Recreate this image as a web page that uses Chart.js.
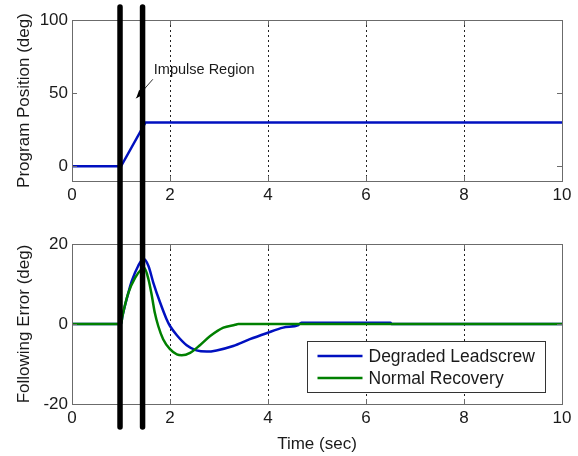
<!DOCTYPE html>
<html><head><meta charset="utf-8">
<script src="https://cdn.jsdelivr.net/npm/chart.js@4"></script>
<style>
html,body{margin:0;padding:0;background:#fff;width:578px;height:456px;overflow:hidden}
canvas{position:absolute;left:0}
#top{top:0}#bot{top:216px}
</style></head><body>
<canvas id="top" width="578" height="216"></canvas>
<canvas id="bot" width="578" height="240"></canvas>
<script>
// ---- data ----
const xTicks = [0, 2, 4, 6, 8, 10];
const posTicks = [0, 50, 100];
const errTicks = [-20, 0, 20];

const posTime  = [0, 1, 1.5, 10];
const posValue = [0, 0, 30, 30];

const degTime  = [0, 1, 1.03, 1.15, 1.22, 1.35, 1.46, 1.56, 1.66, 1.8, 1.93, 2.0, 2.14, 2.34, 2.54, 2.75, 2.95, 3.29, 3.63, 3.97, 4.31, 4.62, 4.68, 6.5, 6.52, 10];
const degValue = [0, 0, 2.0, 7.8, 10.75, 14.5, 16.3, 14.5, 10.3, 5.3, 1.2, -0.5, -2.8, -5.3, -6.6, -6.9, -6.6, -5.5, -3.8, -2.3, -0.9, -0.25, 0.3, 0.3, 0, 0];

const normTime  = [0, 1, 1.03, 1.15, 1.29, 1.42, 1.47, 1.56, 1.63, 1.69, 1.76, 1.86, 2.0, 2.14, 2.24, 2.41, 2.61, 2.82, 3.09, 3.33, 3.39, 10];
const normValue = [0, 0, 2.0, 7.8, 11.6, 13.7, 14.1, 11.2, 7.0, 2.8, -0.5, -3.8, -6.3, -7.6, -7.8, -7.2, -5.3, -3.0, -0.9, -0.2, 0, 0];

const impulseBounds = [0.98, 1.44];
const seriesLabels = ['Degraded Leadscrew', 'Normal Recovery'];
const annotationText = 'Impulse Region';

// ---- styles / positions ----
const FONT = '"Liberation Sans", Arial, Helvetica, sans-serif';
const TXT = '#1a1a1a';
const BLUE = '#0010c0';
const GREEN = '#008000';
const annot = {textX: 1.67, textY: 66, tailX: 1.65, tailY: 59.5, tipX: 1.31, tipY: 46.5};

function pts(xs, ys) { return xs.map((t, i) => ({x: t, y: ys[i]})); }

function xScale(h) {
  return {
    type: 'linear', min: 0, max: 10,
    afterBuildTicks: s => { s.ticks = xTicks.map(v => ({value: v})); },
    afterFit: s => { s.height = h; },
    ticks: {font: {family: FONT, size: 17}, color: TXT, padding: 4, maxRotation: 0, autoSkip: false},
    grid: {drawTicks: false, lineWidth: 1,
      color: c => (c.tick && (c.tick.value === 0 || c.tick.value === 10)) ? 'rgba(0,0,0,0)' : '#222'},
    border: {display: false, dash: [2, 3]}
  };
}
function yScale(min, max, ticks, title) {
  return {
    min, max,
    afterBuildTicks: s => { s.ticks = ticks.map(v => ({value: v})); },
    afterFit: s => { s.width = 72; },
    ticks: {font: {family: FONT, size: 17}, color: TXT, padding: 4},
    grid: {display: false, drawTicks: false},
    border: {display: false},
    title: {display: true, text: title, font: {family: FONT, size: 17}, color: TXT, padding: {top: 14, bottom: 0}}
  };
}

const framePlugin = {
  id: 'frame',
  afterDatasetsDraw(chart) {
    const {ctx, chartArea: a, scales: {x, y}} = chart;
    ctx.save();
    ctx.strokeStyle = '#6b6b6b';
    ctx.lineWidth = 1;
    ctx.beginPath();
    x.ticks.forEach(t => {
      const px = Math.round(x.getPixelForValue(t.value)) + 0.5;
      ctx.moveTo(px, a.bottom); ctx.lineTo(px, a.bottom - 5);
      ctx.moveTo(px, a.top); ctx.lineTo(px, a.top + 5);
    });
    y.ticks.forEach(t => {
      const py = Math.round(y.getPixelForValue(t.value)) + 0.5;
      ctx.moveTo(a.left, py); ctx.lineTo(a.left + 5, py);
      ctx.moveTo(a.right, py); ctx.lineTo(a.right - 5, py);
    });
    ctx.stroke();
    ctx.strokeRect(Math.round(a.left) + 0.5, Math.round(a.top) + 0.5, Math.round(a.right - a.left), Math.round(a.bottom - a.top));
    ctx.restore();
  }
};

function impulsePlugin(y0, y1) {
  return {
    id: 'impulse',
    afterDraw(chart) {
      const {ctx, scales: {x}} = chart;
      ctx.save();
      ctx.strokeStyle = '#000';
      ctx.lineWidth = 5.5;
      ctx.lineCap = 'round';
      impulseBounds.forEach(v => {
        const px = x.getPixelForValue(v);
        ctx.beginPath(); ctx.moveTo(px, y0); ctx.lineTo(px, y1); ctx.stroke();
      });
      ctx.restore();
    }
  };
}

const annotPlugin = {
  id: 'annot',
  afterDraw(chart) {
    const {ctx, scales: {x, y}} = chart;
    ctx.save();
    ctx.fillStyle = TXT;
    ctx.font = '14.5px ' + FONT;
    ctx.textBaseline = 'middle';
    ctx.textAlign = 'left';
    ctx.fillText(annotationText, x.getPixelForValue(annot.textX), y.getPixelForValue(annot.textY));
    const tx = x.getPixelForValue(annot.tailX), ty = y.getPixelForValue(annot.tailY);
    const hx = x.getPixelForValue(annot.tipX), hy = y.getPixelForValue(annot.tipY);
    ctx.strokeStyle = '#333';
    ctx.lineWidth = 1;
    ctx.beginPath(); ctx.moveTo(tx, ty); ctx.lineTo(hx, hy); ctx.stroke();
    const ang = Math.atan2(hy - ty, hx - tx), L = 9, W = 0.38;
    ctx.fillStyle = '#000';
    ctx.beginPath();
    ctx.moveTo(hx, hy);
    ctx.lineTo(hx - L * Math.cos(ang - W), hy - L * Math.sin(ang - W));
    ctx.lineTo(hx - L * Math.cos(ang + W), hy - L * Math.sin(ang + W));
    ctx.closePath(); ctx.fill();
    ctx.restore();
  }
};

const legendPlugin = {
  id: 'mlegend',
  afterDraw(chart) {
    const {ctx, chartArea: a} = chart;
    const w = 238, h = 51;
    const bx = Math.round(a.right - 17 - w) + 0.5, by = Math.round(a.bottom - 12 - h) + 0.5;
    ctx.save();
    ctx.fillStyle = '#fff';
    ctx.fillRect(bx, by, w, h);
    ctx.strokeStyle = '#333';
    ctx.lineWidth = 1;
    ctx.strokeRect(bx, by, w, h);
    const ds = chart.data.datasets;
    ctx.font = '17.5px ' + FONT;
    ctx.textBaseline = 'middle';
    ctx.textAlign = 'left';
    ds.forEach((d, i) => {
      const ly = by + 14.5 + i * 22;
      ctx.strokeStyle = d.borderColor;
      ctx.lineWidth = 2.5;
      ctx.beginPath(); ctx.moveTo(bx + 10, ly); ctx.lineTo(bx + 55, ly); ctx.stroke();
      ctx.fillStyle = TXT;
      ctx.fillText(d.label, bx + 61, ly + 1);
    });
    ctx.restore();
  }
};

const common = {
  responsive: false, animation: false, devicePixelRatio: 1,
  plugins: {legend: {display: false}, tooltip: {enabled: false}},
  elements: {point: {radius: 0}, line: {tension: 0, borderWidth: 2.5}}
};

new Chart(document.getElementById('top'), {
  type: 'line',
  data: {datasets: [{label: 'Program Position', data: pts(posTime, posValue), borderColor: BLUE, fill: false}]},
  options: Object.assign({}, common, {
    layout: {padding: {top: 20, right: 16, left: 0, bottom: 0}},
    scales: {x: xScale(35), y: yScale(-10, 100, posTicks, 'Program Position (deg)')}
  }),
  plugins: [framePlugin, annotPlugin, impulsePlugin(7, 225)]
});

new Chart(document.getElementById('bot'), {
  type: 'line',
  data: {datasets: [
    {label: seriesLabels[0], data: pts(degTime, degValue), borderColor: BLUE, fill: false, order: 1, cubicInterpolationMode: 'monotone'},
    {label: seriesLabels[1], data: pts(normTime, normValue), borderColor: GREEN, fill: false, order: 0, cubicInterpolationMode: 'monotone'}
  ]},
  options: Object.assign({}, common, {
    layout: {padding: {top: 28, right: 16, left: 0, bottom: 0}},
    scales: {
      x: Object.assign(xScale(52), {title: {display: true, text: 'Time (sec)', font: {family: FONT, size: 17}, color: TXT, padding: {top: 0, bottom: 1}}}),
      y: yScale(-20, 20, errTicks, 'Following Error (deg)')
    }
  }),
  plugins: [framePlugin, legendPlugin, impulsePlugin(-10, 211)]
});
</script>
</body></html>
